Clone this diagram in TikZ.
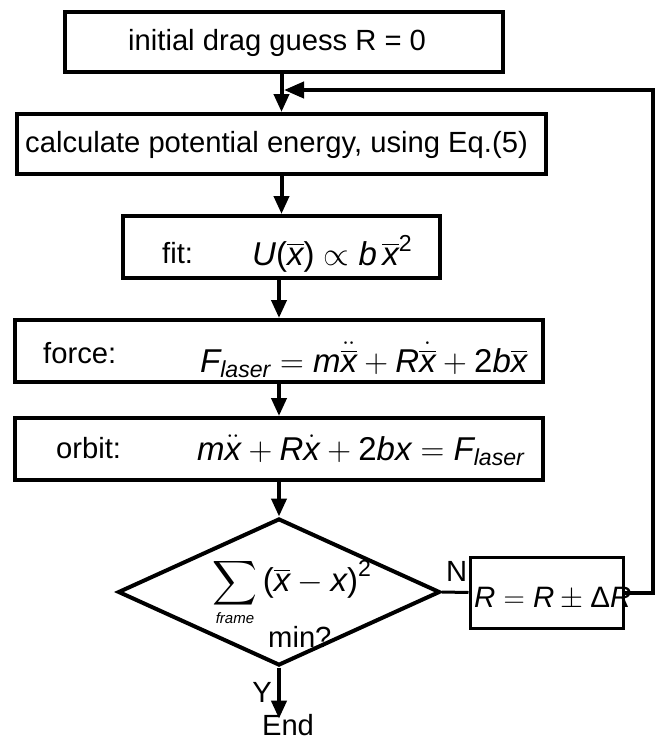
\RequirePackage{fix-cm}
\documentclass[tikz,border=0pt]{standalone}
\usepackage{amsmath}
\usepackage{fontspec}
\setmainfont{Liberation Sans}
\usetikzlibrary{arrows.meta,shapes.geometric}
\newcommand{\vv}[1]{\textit{#1}}
\newcommand{\xb}{\overline{\vv{x}}}
\newcommand{\lsr}{\vv{laser}}
\newcommand{\tx}[1]{\text{#1}}
\newcommand{\bigsum}{\mathop{\vcenter{\hbox{\scalebox{1.25}{$\displaystyle\sum$}}}}\limits}
\begin{document}
\begin{tikzpicture}[x=1pt,y=-1pt,
  box/.style={draw, line width=4pt, rectangle, inner sep=0pt},
  lbl/.style={font=\fontsize{29.2}{33}\selectfont, inner sep=0pt},
  fml/.style={font=\fontsize{33}{37}\selectfont, inner sep=0pt},
  conn/.style={line width=4pt, -{Triangle[length=18pt,width=15pt]}}
]
\useasboundingbox (0,0) rectangle (656,740);
% boxes
\node[box, minimum width=438pt, minimum height=60pt] (b1) at (284,42) {};
\node[box, minimum width=529pt, minimum height=60pt] (b2) at (281.5,144) {};
\node[box, minimum width=317pt, minimum height=62pt] (b3) at (281.5,247) {};
\node[box, minimum width=528pt, minimum height=62pt] (b4) at (279,351) {};
\node[box, minimum width=528pt, minimum height=62pt] (b5) at (279,449) {};
\node[diamond, draw, line width=4pt, aspect=2.19, minimum width=322pt, minimum height=147pt, inner sep=0pt] (d) at (279,592) {};
\node[box, line width=3pt, minimum width=153pt, minimum height=71pt] (bR) at (546.5,592.5) {};
% texts
\node[lbl, anchor=base west] (t1) at (128,50) {initial drag guess R = 0};
\node[lbl, anchor=base west] (t2) at (25,152) {calculate potential energy, using Eq.(5)};
\node[lbl, anchor=base west] (t3a) at (162,263) {fit:};
\node[fml, anchor=base west] (t3b) at (252,265) {$\vv{U}\tx{(}\xb\tx{)}\propto\vv{b}\,\xb^{\tx{2}}$};
\node[lbl, anchor=base west] (t4a) at (43,363) {force:};
\node[fml, anchor=base west] (t4b) at (200,372) {$\vv{F}_{\lsr} = \vv{m}\ddot{\xb} + \vv{R}\dot{\xb} + \tx{2}\vv{b}\xb$};
\node[lbl, anchor=base west] (t5a) at (56,458) {orbit:};
\node[fml, anchor=base west] (t5b) at (197,460) {$\vv{m}\ddot{\vv{x}} + \vv{R}\dot{\vv{x}} + \tx{2}\vv{b}\vv{x} = \vv{F}_{\lsr}$};
\node[fml, anchor=center] (tsum) at (292,592) {$\bigsum_{\text{\fontsize{15}{15}\selectfont\itshape frame}}\tx{(}\xb - \vv{x}\tx{)}^{\tx{2}}$};
\node[lbl, anchor=base west] (tmin) at (268,647) {min?};
\node[fml, font=\fontsize{29.5}{33}\selectfont, anchor=base west] (tR) at (474,607) {$\vv{R} = \vv{R}\pm\tx{Δ}\vv{R}$};
\node[lbl, anchor=base west] (tN) at (446,581) {N};
\node[lbl, anchor=base east] (tY) at (272,702) {Y};
\node[lbl, anchor=base] (tEnd) at (288,735) {End};
% connectors
\coordinate (fbcorner1) at (653,592.5);
\coordinate (fbcorner2) at (653,90);
\coordinate (fbtip) at (284,90);
\draw[conn] (b1.south -| b2.north) -- (b2.north);
\draw[conn] (b2.south) -- (b3.north);
\draw[conn] (b3.south -| b4.north) -- (b4.north);
\draw[conn] (b4.south) -- (b5.north);
\draw[conn] (b5.south) -- (d.north);
\draw[conn] (d.south) -- ([yshift=-5pt]d.south |- tEnd.north);
\draw[line width=3pt] (d.east) -- (bR.west);
\draw[line width=4pt, -{Triangle[length=20pt,width=16pt]}] (bR.east) -- (fbcorner1) -- (fbcorner2) -- (fbtip);
\end{tikzpicture}
\end{document}
